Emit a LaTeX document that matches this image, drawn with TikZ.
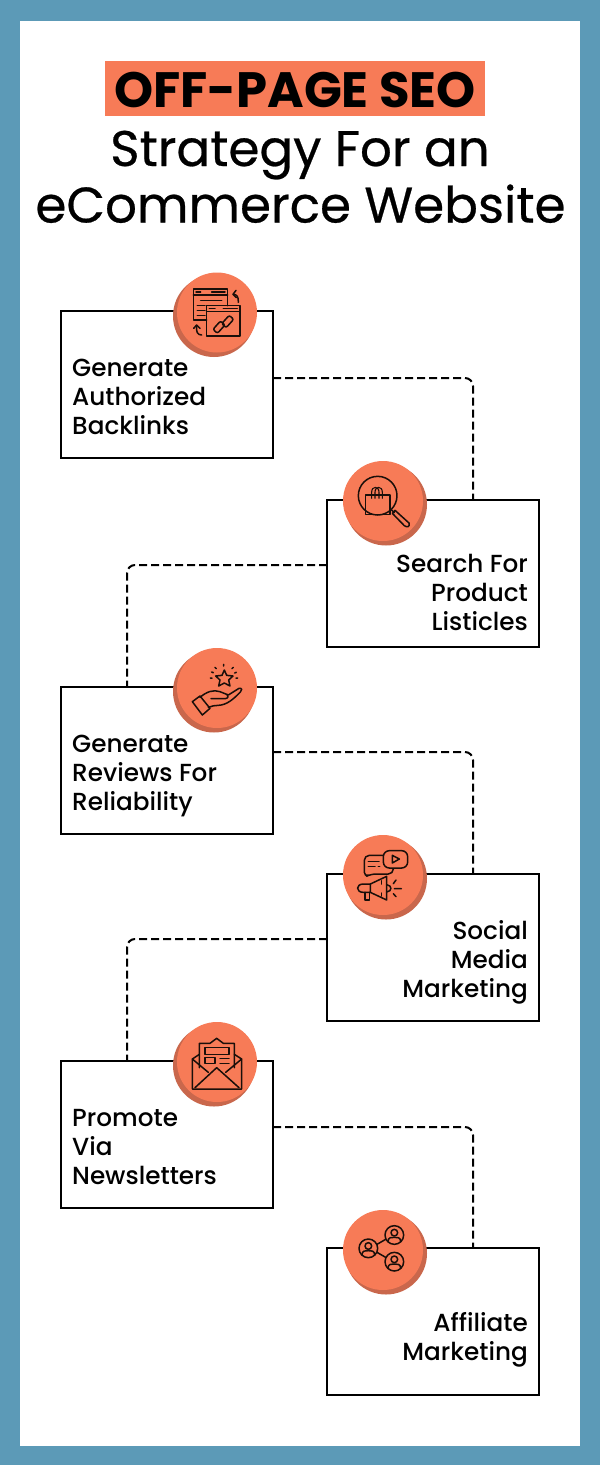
\documentclass[tikz,border=0pt]{standalone}
\usepackage{fontspec}
\setmainfont{Poppins}
\newfontfamily\pmed{Poppins Medium}
\newfontfamily\ptitle{Poppins}[FakeBold=0.5]
\newfontfamily\pbold{Poppins}[UprightFont=*-Bold]
\usetikzlibrary{calc}
\definecolor{frameblue}{HTML}{5C9AB7}
\definecolor{accent}{HTML}{F77B57}
\definecolor{accentdark}{HTML}{C9674C}
\definecolor{inkc}{HTML}{1A0F0A}
\tikzset{
  x=1pt,y=-1pt,
  stepbox/.style={draw=black,line width=2pt,fill=white,minimum width=212pt,minimum height=147pt,inner sep=0pt,outer sep=0pt},
  link/.style={draw=black,line width=2pt,dash pattern=on 8pt off 4pt,rounded corners=8pt},
  lefttext/.style={anchor=south west,align=left,inner sep=0pt,font=\pmed\fontsize{24.7}{29}\selectfont,text depth=0pt},
  righttext/.style={anchor=south east,align=right,inner sep=0pt,font=\pmed\fontsize{24.7}{29}\selectfont,text depth=0pt},
  ico/.style={draw=inkc,line width=1.5pt,line join=round,line cap=round},
  title/.style={anchor=base,inner sep=0pt,font=\ptitle\fontsize{50}{50}\selectfont},
}
\newcommand{\badge}[3]{% x y dx
  \fill[accentdark] (#1+#3,#2+3.5) circle[radius=41];
  \fill[accent] (#1,#2) circle[radius=40];
}
\newcommand{\persona}[2]{%
  \draw[ico] (#1,#2) circle[radius=28];
  \draw[ico] (#1,#2-7) circle[radius=10];
  \draw[ico] (#1-19,#2+20) .. controls (#1-19,#2+6) and (#1-8,#2+7) .. (#1,#2+7) .. controls (#1+8,#2+7) and (#1+19,#2+6) .. (#1+19,#2+20);
}
\begin{document}
\begin{tikzpicture}
\useasboundingbox (0,0) rectangle (600,1465);
\fill[frameblue] (0,0) rectangle (600,1465);
\fill[white] (20,21) rectangle (580,1446);
\fill[accent] (105,61) rectangle (485,116);
\node[title,font=\pbold\fontsize{49.7}{49.7}\selectfont] (t1) at (295,107) {OFF-PAGE SEO};
\node[title] (t2) at (300,166) {Strategy For an};
\node[title] (t3) at (300.5,222.5) {eCommerce Website};

\node[stepbox] (b1) at (167,384.5) {};
\node[stepbox] (b2) at (433,573.5) {};
\node[stepbox] (b3) at (167,760.5) {};
\node[stepbox] (b4) at (433,947.5) {};
\node[stepbox] (b5) at (167,1134.5) {};
\node[stepbox] (b6) at (433,1321.5) {};

\draw[link] ([yshift=6.5pt]b1.east) -| ([xshift=40pt]b2.north);
\draw[link] ([yshift=8.5pt]b2.west) -| ([xshift=-40pt]b3.north);
\draw[link] ([yshift=8.5pt]b3.east) -| ([xshift=40pt]b4.north);
\draw[link] ([yshift=8.5pt]b4.west) -| ([xshift=-40pt]b5.north);
\draw[link] ([yshift=7.5pt]b5.east) -| ([xshift=40pt]b6.north);

\node[lefttext] (l1) at (72,435) {Generate\\Authorized\\Backlinks};
\node[righttext] (l2) at (528,631) {Search For\\Product\\Listicles};
\node[lefttext] (l3) at (72,811) {Generate\\Reviews For\\Reliability};
\node[righttext] (l4) at (528,998) {Social\\Media\\Marketing};
\node[lefttext] (l5) at (72,1185) {Promote\\Via\\Newsletters};
\node[righttext] (l6) at (528,1361) {Affiliate\\Marketing};

\badge{217}{312.5}{-3}
\badge{383}{501}{3}
\badge{217}{688}{-3}
\badge{383}{875}{3}
\badge{217}{1062}{-3}
\badge{383}{1250}{3}

% icon 1: windows and link
\begin{scope}[shift={(160,265)},scale=1/3]
\draw[ico] (140,165) -- (100,165) -- (100,72) -- (203,72) -- (203,122);
\draw[ico] (100,90) -- (203,90);
\draw[ico] (108,81) -- (122,81) (155,81) -- (195,81);
\draw[ico] (122,106) -- (185,106) (112,122) -- (135,122) (112,137) -- (135,137) (112,152) -- (135,152);
\draw[ico] (140,122) rectangle (240,213);
\draw[ico] (140,140) -- (240,140);
\draw[ico] (148,131) -- (165,131) (190,131) -- (232,131);
\draw[ico,rounded corners=2pt,rotate around={48:(190,178)}] (158,165) rectangle (192,183);
\draw[ico,rounded corners=2pt,rotate around={48:(190,178)}] (188,173) rectangle (222,191);
\draw[ico] (235,112) .. controls (236,95) and (230,88) .. (220,88);
\draw[ico] (228,76) -- (219,88) -- (229,98);
\draw[ico] (125,210) .. controls (112,210) and (108,200) .. (110,182);
\draw[ico] (101,190) -- (110,180) -- (120,190);
\end{scope}

% icon 2: bag under magnifier
\begin{scope}[shift={(335,455)},scale=1/3]
\draw[ico] (128,122) circle[radius=58];
\draw[ico] (92,120) rectangle (165,178);
\draw[ico,line width=1.1pt] (110,130) -- (110,112) .. controls (110,92) and (132,92) .. (132,112) -- (132,130);
\draw[ico,line width=1.1pt] (120,130) -- (120,112) .. controls (120,92) and (142,92) .. (142,112) -- (142,130);
\draw[ico] (170,165) -- (178,173);
\draw[ico] (180,166) -- (222,204) .. controls (226,216) and (216,218) .. (208,212) -- (172,175) -- cycle;
\end{scope}

% icon 3: hand and star
\begin{scope}[shift={(165,640)},scale=1/3]
\draw[ico] (178,90) -- (185,106) -- (204,108) -- (191,120) -- (195,138) -- (178,129) -- (161,138) -- (165,120) -- (152,108) -- (171,106) -- cycle;
\draw[ico] (176,73) -- (176,78) (150,82) -- (154,86) (205,82) -- (201,86) (140,96) -- (145,98) (214,97) -- (209,99) (136,114) -- (141,114) (218,114) -- (213,114);
\draw[ico] (82,185) -- (105,168) -- (135,205) -- (112,225) -- cycle;
\draw[ico] (105,172) .. controls (125,155) and (145,148) .. (165,155) -- (190,165) -- (222,145) .. controls (232,143) and (232,152) .. (226,156) .. controls (205,178) and (185,195) .. (160,196) .. controls (150,196) and (140,198) .. (130,202);
\draw[ico] (138,176) -- (180,176) .. controls (190,176) and (192,166) .. (186,163);
\end{scope}

% icon 4: chat, video, megaphone
\begin{scope}[shift={(335,828)},scale=1/3]
\draw[ico,rounded corners=5pt] (145,82) -- (88,82) -- (88,148) -- (108,138) -- (175,138) -- (175,122);
\draw[ico,rounded corners=6pt] (145,68) rectangle (218,120);
\draw[ico] (172,82) -- (172,105) -- (193,93) -- cycle;
\draw[ico] (100,100) -- (132,100) (100,116) -- (120,116) (130,116) -- (134,116);
\draw[ico] (106,168) -- (155,145) -- (155,216) -- (106,193) -- cycle;
\draw[ico] (106,168) -- (85,168) .. controls (62,168) and (62,193) .. (85,193) -- (106,193);
\draw[ico] (90,193) -- (90,216) -- (103,216) -- (103,193);
\draw[ico] (140,158) -- (140,168) (140,195) -- (140,204);
\draw[ico] (155,170) .. controls (172,172) and (172,190) .. (155,192);
\draw[ico] (175,167) -- (183,156) (178,182) -- (199,182) (175,197) -- (183,206);
\end{scope}

% icon 5: envelope
\begin{scope}[shift={(165,1015)},scale=1/3]
\draw[ico] (103,118) -- (82,132) -- (82,222) -- (230,222) -- (230,132) -- (208,118);
\draw[ico] (82,132) -- (130,172) (230,132) -- (182,172);
\draw[ico] (90,218) -- (155,158) -- (222,218);
\draw[ico] (103,158) -- (103,85) -- (135,85) -- (155,70) -- (175,85) -- (208,85) -- (208,158);
\draw[ico] (120,98) rectangle (192,118);
\draw[ico] (120,128) rectangle (150,145);
\draw[ico] (165,130) -- (192,130) (165,145) -- (192,145);
\end{scope}

% icon 6: network of people
\begin{scope}[shift={(335,1200)},scale=1/3]
\persona{100}{145}
\persona{178}{105}
\persona{178}{185}
\draw[ico] (126,133) -- (152,118) (126,157) -- (152,172);
\end{scope}
\end{tikzpicture}
\end{document}
